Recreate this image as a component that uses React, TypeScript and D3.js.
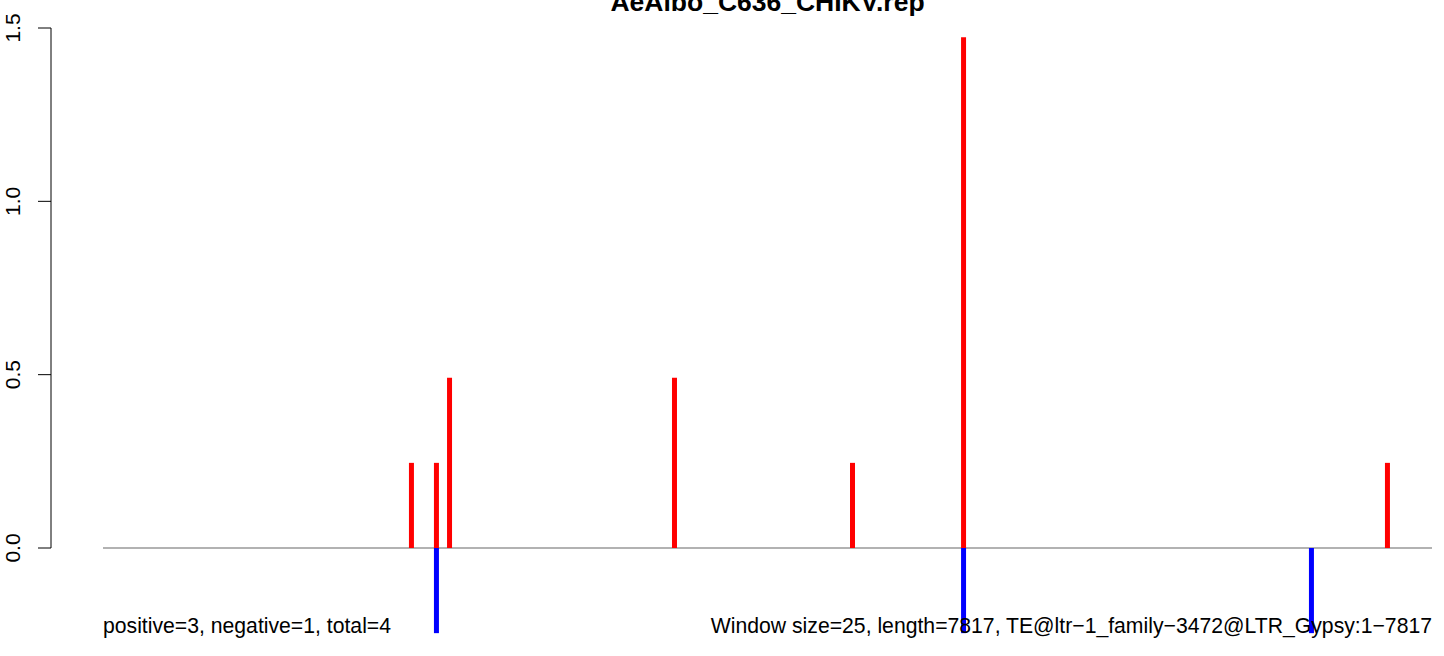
import React from "react";
import * as d3 from "d3";

const title = "AeAlbo_C636_CHIKV.rep";
const seqLength = 7817;
const unit = 0.2456;
const posPositions = [1815, 1962, 2039, 3362, 4409, 5062, 7555];
const posValues = [unit, unit, 2 * unit, 2 * unit, unit, 6 * unit, unit];
const negPositions = [1962, 5062, 7108];
const negValues = [-unit, -unit, -unit];
const yTicks = [0, 0.5, 1.0, 1.5];
const leftNote = "positive=3, negative=1, total=4";
const rightNote = "Window size=25, length=7817, TE@ltr\u22121_family\u22123472@LTR_Gypsy:1\u22127817";

export default function App() {
  const W = 1444, H = 656;
  const x = d3.scaleLinear().domain([1, seqLength]).range([103, 1432]);
  const y = d3.scaleLinear().domain([0, 1.5]).range([548, 28]);
  const font = "'Liberation Sans', Arial, Helvetica, sans-serif";
  return (
    <svg width={W} height={H} style={{ position: "absolute", left: 0, top: 0, background: "#fff" }}>
      <text x={767.5} y={11} textAnchor="middle" fontFamily={font} fontWeight="bold" fontSize={26.5}>{title}</text>
      <line x1={x(1)} x2={x(seqLength)} y1={y(0)} y2={y(0)} stroke="#999" strokeWidth={1.5} />
      {posPositions.map((p, i) => (
        <line key={"p" + i} x1={x(p)} x2={x(p)} y1={y(0)} y2={y(posValues[i])} stroke="#ff0000" strokeWidth={5} />
      ))}
      {negPositions.map((p, i) => (
        <line key={"n" + i} x1={x(p)} x2={x(p)} y1={y(0)} y2={y(negValues[i])} stroke="#0000ff" strokeWidth={5} />
      ))}
      <line x1={51} x2={51} y1={y(1.5)} y2={y(0)} stroke="#000" strokeWidth={1} />
      {yTicks.map((t) => (
        <g key={t}>
          <line x1={38} x2={51} y1={y(t)} y2={y(t)} stroke="#000" strokeWidth={1} />
          <text transform={`translate(${20},${y(t)}) rotate(-90)`} textAnchor="middle" fontFamily={font} fontSize={21}>{t.toFixed(1)}</text>
        </g>
      ))}
      <text x={103} y={633} fontFamily={font} fontSize={21.2}>{leftNote}</text>
      <text x={1432} y={633} textAnchor="end" fontFamily={font} fontSize={21.2}>{rightNote}</text>
    </svg>
  );
}
